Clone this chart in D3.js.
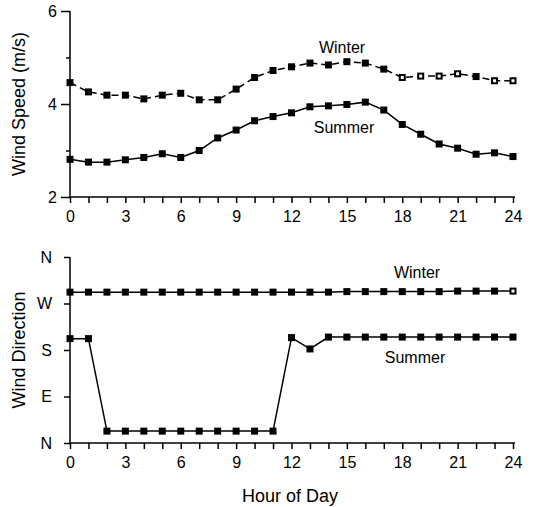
<!DOCTYPE html>
<html>
<head>
<meta charset="utf-8">
<script src="https://cdn.jsdelivr.net/npm/d3@7"></script>
<style>
  body { margin: 0; background: #fff; }
  svg { display: block; font-family: "Liberation Sans", Arial, sans-serif; }
  .domain, .tick line { stroke: #000; stroke-width: 1.5px; }
  .tick text { font-size: 16px; fill: #000; }
</style>
</head>
<body>
<div id="chart"></div>
<script>
// hour of day
var hours = d3.range(0, 25);

// wind speed (m/s)
var winterSpeed = [4.46, 4.26, 4.19, 4.19, 4.11, 4.19, 4.23, 4.09, 4.09, 4.32, 4.57, 4.72, 4.80,
                   4.88, 4.84, 4.91, 4.88, 4.75, 4.57, 4.60, 4.60, 4.65, 4.59, 4.50, 4.50];
var summerSpeed = [2.81, 2.75, 2.75, 2.80, 2.85, 2.93, 2.85, 3.00, 3.27, 3.44, 3.64, 3.73, 3.81,
                   3.94, 3.96, 3.99, 4.04, 3.87, 3.56, 3.35, 3.14, 3.05, 2.92, 2.95, 2.87];

// wind direction (degrees)
var winterDir = [292, 292, 292, 292, 292, 292, 292, 292, 292, 292, 292, 292, 292,
                 292, 292, 293, 293, 293, 293, 293, 293, 294, 294, 294, 294];
var summerDir = [202, 202, 23, 23, 23, 23, 23, 23, 23, 23, 23, 23, 204,
                 182, 205, 205, 205, 205, 205, 205, 205, 205, 205, 205, 205];

// hours printed with open markers
var winterSpeedOpen = [18, 19, 20, 21, 23, 24];
var winterDirOpen = [24];

var xTicks = [0, 3, 6, 9, 12, 15, 18, 21, 24];
var speedTicks = [2, 3, 4, 5, 6];
var speedLabels = [2, 4, 6];
var dirTicks = [0, 90, 180, 270, 360];
var dirLabels = ["N", "E", "S", "W", "N"];

var width = 535, height = 507;

var svg = d3.select("#chart").append("svg")
    .attr("width", width)
    .attr("height", height);

var x = d3.scaleLinear().domain([0, 24]).range([70, 513]);

var ySpeed = d3.scaleLinear().domain([2, 6]).range([197, 11]);
var yDir = d3.scaleLinear().domain([0, 360]).range([443, 257]);

function xAxis(g, yPos) {
  g.attr("transform", "translate(0," + yPos + ")")
   .call(d3.axisBottom(x).ticks(24).tickSize(6).tickPadding(8)
     .tickFormat(function(d){ return xTicks.indexOf(d) >= 0 ? d : ""; }))
   .call(function(a){ a.select(".domain").attr("d", "M70,0H515"); });
}

// top panel
svg.append("g").call(xAxis, 197);

svg.append("g")
   .attr("transform", "translate(70,0)")
   .call(d3.axisLeft(ySpeed).tickValues(speedTicks).tickSize(0).tickPadding(13)
     .tickFormat(function(d){ return speedLabels.indexOf(d) >= 0 ? d : ""; }))
   .call(function(a){
     a.select(".domain").attr("d", "M0,11V197");
     a.selectAll(".tick line").attr("x2", function(d){ return speedLabels.indexOf(d) >= 0 ? -9 : -4; });
   });

// bottom panel
svg.append("g").call(xAxis, 443);

svg.append("g")
   .attr("transform", "translate(70,0)")
   .call(d3.axisLeft(yDir).tickValues(dirTicks).tickSize(6).tickPadding(12)
     .tickFormat(function(d, i){ return dirLabels[i]; }))
   .call(function(a){ a.select(".domain").attr("d", "M0,257V443"); });

function drawSeries(values, yScale, dash, openHours) {
  var line = d3.line()
      .x(function(d, i){ return x(hours[i]); })
      .y(function(d){ return yScale(d); });

  svg.append("path")
     .datum(values)
     .attr("d", line)
     .attr("fill", "none")
     .attr("stroke", "#000")
     .attr("stroke-width", 1.5)
     .attr("stroke-dasharray", dash);

  var isOpen = function(i){ return openHours.indexOf(hours[i]) >= 0; };
  svg.append("g").selectAll("rect")
     .data(values)
     .enter()
     .append("rect")
     .attr("x", function(d, i){ return x(hours[i]) - (isOpen(i) ? 2.5 : 3.5); })
     .attr("y", function(d, i){ return yScale(d) - (isOpen(i) ? 2.5 : 3.5); })
     .attr("width", function(d, i){ return isOpen(i) ? 5 : 7; })
     .attr("height", function(d, i){ return isOpen(i) ? 5 : 7; })
     .attr("fill", function(d, i){ return isOpen(i) ? "#fff" : "#000"; })
     .attr("stroke", "#000")
     .attr("stroke-width", function(d, i){ return isOpen(i) ? 2 : 0; });
}

drawSeries(winterSpeed, ySpeed, "7,4", winterSpeedOpen);
drawSeries(summerSpeed, ySpeed, null, []);
drawSeries(winterDir, yDir, null, winterDirOpen);
drawSeries(summerDir, yDir, null, []);

// series labels
function label(text, cx, cy) {
  svg.append("text")
     .attr("x", cx).attr("y", cy)
     .attr("text-anchor", "middle")
     .attr("font-size", 16)
     .text(text);
}
label("Winter", 342, 53);
label("Summer", 344, 133);
label("Winter", 417, 278);
label("Summer", 415, 363);

// axis titles
svg.append("text")
   .attr("transform", "translate(25,104) rotate(-90)")
   .attr("text-anchor", "middle")
   .attr("font-size", 18)
   .text("Wind Speed (m/s)");

svg.append("text")
   .attr("transform", "translate(25,350) rotate(-90)")
   .attr("text-anchor", "middle")
   .attr("font-size", 18)
   .text("Wind Direction");

svg.append("text")
   .attr("x", 290).attr("y", 502)
   .attr("text-anchor", "middle")
   .attr("font-size", 18)
   .text("Hour of Day");
</script>
</body>
</html>
